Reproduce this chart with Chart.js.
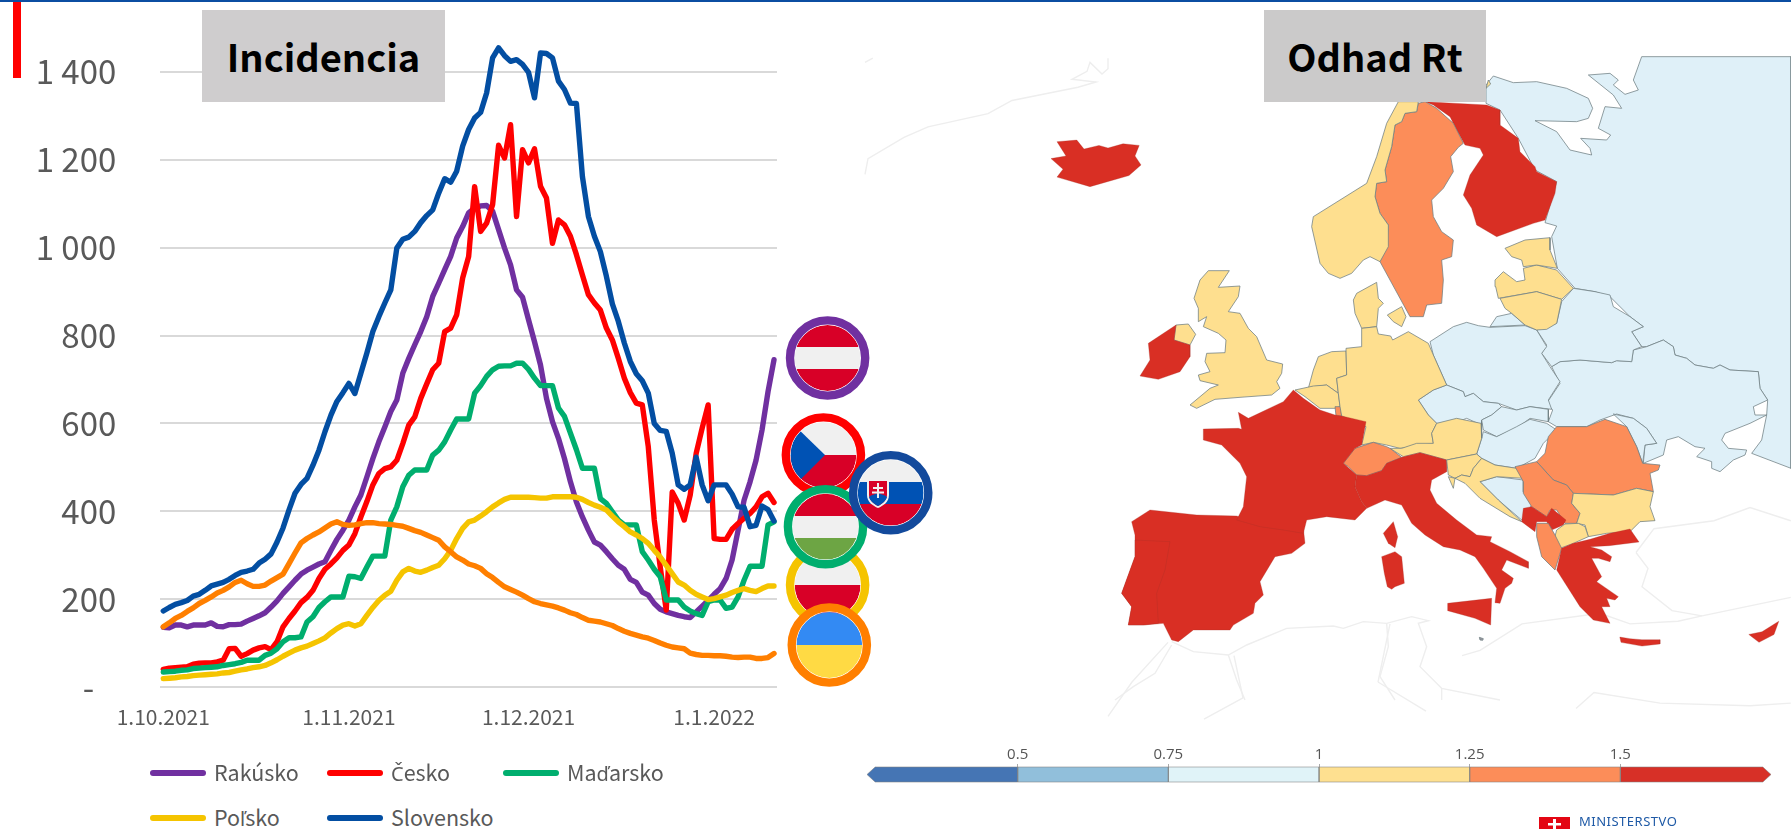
<!DOCTYPE html>
<html lang="sk"><head><meta charset="utf-8"><title>Incidencia a odhad Rt</title>
<script src="https://cdn.jsdelivr.net/npm/chart.js@4"></script>
<style>
html,body{margin:0;padding:0;background:#fff;width:1791px;height:829px;overflow:hidden;font-family:"Noto Sans CJK SC","Noto Sans",sans-serif}
canvas,svg,.abs{position:absolute}
#topline{left:0;top:0;width:1791px;height:2px;background:#0b4ea2}
#redbar{left:13px;top:2px;width:8px;height:76px;background:#ff0000}
.box{display:flex;align-items:center;justify-content:center;top:10px;height:92px;font-weight:700;color:#000;font-size:38px;line-height:1}
#t1{left:202px;width:243px;background:#cfcdce}
#t2{left:1264px;width:222px;background:#cbcaca}
.lg{color:#595959;font-size:21.5px;line-height:1;white-space:nowrap}
.lg span{font-family:"Noto Sans",sans-serif;font-size:.93em}
.lgl{height:6px;border-radius:3px;width:56px}
#logo{left:1539px;top:817px;width:31px;height:12px;background:#e30613;overflow:hidden}
#logotext{left:1579px;top:814px;font-size:13px;line-height:1.2;color:#1f5aa6;letter-spacing:.5px;font-family:"Noto Sans",sans-serif}
</style></head><body>
<div class="abs" id="topline"></div>
<canvas id="map" width="941" height="829" style="left:850px;top:0"></canvas>
<canvas id="inc" width="777" height="760" style="left:0;top:0"></canvas>
<canvas id="bar" width="941" height="50" style="left:850px;top:735px"></canvas>
<div class="abs" id="redbar"></div>
<div class="abs box" id="t1">Incidencia</div>
<div class="abs box" id="t2">Odhad Rt</div>
<div id="legend"></div>
<svg width="1791" height="829" style="left:0;top:0">
<defs>
<clipPath id="cA"><circle cx="827.6" cy="358" r="33"/></clipPath>
<clipPath id="cC"><circle cx="823.4" cy="455" r="33"/></clipPath>
<clipPath id="cP"><circle cx="827.6" cy="585" r="33"/></clipPath>
<clipPath id="cH"><circle cx="825.5" cy="526.7" r="33"/></clipPath>
<clipPath id="cU"><circle cx="829.3" cy="645" r="33"/></clipPath>
<clipPath id="cS"><circle cx="890.7" cy="492.7" r="33"/></clipPath>
</defs>
<g clip-path="url(#cA)"><rect x="790" y="320" width="80" height="80" fill="#f0f0f0"/><rect x="790" y="320" width="80" height="27" fill="#d80027"/><rect x="790" y="369" width="80" height="30" fill="#d80027"/></g>
<circle cx="827.6" cy="358" r="33.6" fill="none" stroke="#fff" stroke-width="1.4"/><circle cx="827.6" cy="358" r="37.6" fill="none" stroke="#7030a0" stroke-width="8.4"/>
<g clip-path="url(#cC)"><rect x="785" y="420" width="80" height="35" fill="#f0f0f0"/><rect x="785" y="455" width="80" height="35" fill="#d80027"/><path d="M790 421L825 455L790 490Z" fill="#0052b4"/></g>
<circle cx="823.4" cy="455" r="33.6" fill="none" stroke="#fff" stroke-width="1.4"/><circle cx="823.4" cy="455" r="37.6" fill="none" stroke="#ff0000" stroke-width="8.4"/>
<g clip-path="url(#cP)"><rect x="790" y="550" width="80" height="35" fill="#f0f0f0"/><rect x="790" y="585" width="80" height="35" fill="#d80027"/></g>
<circle cx="827.6" cy="585" r="33.6" fill="none" stroke="#fff" stroke-width="1.4"/><circle cx="827.6" cy="585" r="37.6" fill="none" stroke="#f5c400" stroke-width="8.4"/>
<g clip-path="url(#cH)"><rect x="790" y="490" width="80" height="80" fill="#f0f0f0"/><rect x="790" y="490" width="80" height="26" fill="#d80027"/><rect x="790" y="538" width="80" height="30" fill="#6da544"/></g>
<circle cx="825.5" cy="526.7" r="33.6" fill="none" stroke="#fff" stroke-width="1.4"/><circle cx="825.5" cy="526.7" r="37.6" fill="none" stroke="#00ae6e" stroke-width="8.4"/>
<g clip-path="url(#cU)"><rect x="790" y="610" width="80" height="35" fill="#338af3"/><rect x="790" y="645" width="80" height="35" fill="#ffda44"/></g>
<circle cx="829.3" cy="645" r="33.6" fill="none" stroke="#fff" stroke-width="1.4"/><circle cx="829.3" cy="645" r="37.6" fill="none" stroke="#ff7f00" stroke-width="8.4"/>
<g clip-path="url(#cS)"><rect x="855" y="459" width="80" height="23" fill="#f0f0f0"/><rect x="855" y="482" width="80" height="22" fill="#0052b4"/><rect x="855" y="504" width="80" height="23" fill="#d80027"/>
<path d="M867 479h22v16c0 7-6 11-11 13c-5-2-11-6-11-13z" fill="#f0f0f0"/><path d="M869 481h18v14c0 5-5 9-9 11c-4-2-9-6-9-11z" fill="#d80027"/><path d="M869 497c3-3 6-2 9-4c3 2 6 1 9 4c-1 4-5 7-9 9c-4-2-8-5-9-9z" fill="#0052b4"/><path d="M877 483h2v15h-2zM873 487h10v2h-10zM872 491.500h12v2h-12z" fill="#f0f0f0"/></g>
<circle cx="890.7" cy="492.7" r="33.6" fill="none" stroke="#fff" stroke-width="1.4"/><circle cx="890.7" cy="492.7" r="37.6" fill="none" stroke="#134a9c" stroke-width="8.4"/>
</svg>
<div class="abs" id="logo"><svg width="31" height="12" style="left:0;top:0"><path d="M14 2h3v10h-3zM9 6h13v2.500H9z" fill="#fff"/></svg></div>
<div class="abs" id="logotext">MINISTERSTVO</div>
<script>
Chart.defaults.font.family='"Noto Sans CJK SC","Noto Sans",sans-serif';
/* ---------- incidence data ---------- */
const monthStarts=[['10','2021',31],['11','2021',30],['12','2021',31],['1','2022',11]];
const categories=[];
monthStarts.forEach(([m,y,n])=>{for(let d=1;d<=n;d++)categories.push(d+'.'+m+'.'+y)});
const tickLabels=['1.10.2021','1.11.2021','1.12.2021','1.1.2022'];
const yTicks=[0,200,400,600,800,1000,1200,1400];
const rakusko=[136,135,141,141,137,141,141,141,146,138,137,142,142,143,150,156,162,169,182,196,213,228,243,257,266,273,280,285,311,336,357,380,410,437,478,520,558,592,627,653,714,748,779,809,843,889,919,950,980,1022,1048,1079,1090,1095,1096,1083,1041,999,961,904,887,836,786,733,657,604,566,520,467,421,387,357,330,323,308,292,277,268,245,238,216,209,190,177,171,167,163,160,158,171,184,197,211,224,247,289,357,425,467,516,585,672,745];
const cesko=[40,43,44,45,46,52,54,55,55,57,61,87,88,70,76,84,89,92,85,103,137,156,173,192,204,220,247,268,280,294,311,323,349,387,422,460,486,497,501,516,554,596,615,657,690,722,737,809,817,847,931,980,1139,1037,1056,1098,1233,1204,1280,1071,1223,1193,1225,1140,1113,1010,1063,1052,1026,984,938,893,874,858,817,790,748,703,670,646,642,547,380,273,175,444,418,380,437,532,589,642,338,336,336,359,372,384,395,410,433,441,420];
const madarsko=[34,35,36,38,39,42,43,44,45,46,49,51,53,56,61,61,61,72,77,87,103,112,112,114,148,160,181,194,205,205,205,252,251,247,273,298,298,298,380,410,456,482,494,494,494,528,539,558,585,610,610,610,669,686,707,722,730,731,731,737,737,723,703,686,686,686,635,616,578,540,498,498,498,429,418,399,380,369,369,369,308,289,268,251,198,198,198,182,173,167,163,194,198,198,179,182,205,243,275,275,275,369,376];
const polsko=[19,20,21,23,24,26,27,28,29,30,32,33,36,39,41,44,46,49,55,62,70,77,84,89,93,99,105,112,123,133,141,144,139,144,163,181,197,209,218,243,262,270,264,261,266,272,277,292,311,338,361,376,380,389,399,410,419,427,432,432,432,432,431,430,430,433,433,433,433,432,427,420,414,409,403,389,376,365,353,346,338,327,311,296,277,258,239,232,220,211,205,199,201,205,209,215,220,224,220,217,224,230,230];
const slovensko=[173,181,188,192,197,207,211,220,230,234,238,245,254,261,264,268,282,291,303,330,362,403,441,461,475,505,539,581,619,650,670,691,668,714,760,809,843,874,904,999,1019,1024,1037,1057,1073,1086,1124,1157,1149,1174,1231,1269,1295,1308,1352,1432,1455,1437,1424,1428,1417,1399,1341,1443,1442,1432,1379,1360,1329,1328,1162,1071,1026,991,935,872,832,783,741,713,697,669,600,584,582,532,460,450,460,523,460,424,460,460,460,439,410,409,365,368,412,404,378];
const ukrajina=[137,146,156,163,172,180,190,197,205,214,220,228,238,243,235,229,229,232,241,249,257,281,305,328,338,346,353,362,371,376,370,368,369,372,374,374,372,371,370,368,366,361,356,352,346,340,334,319,308,296,289,280,276,270,258,249,238,228,222,216,209,201,194,190,187,184,180,175,169,165,158,152,150,148,144,140,133,127,122,118,114,111,106,100,95,91,89,87,77,74,72,72,71,71,70,68,67,68,68,65,65,67,76];
const seriesNames=['Rakúsko','Česko','Maďarsko','Poľsko','Slovensko','Ukrajina'];
const seriesValues=[rakusko,cesko,madarsko,polsko,slovensko,ukrajina];
const seriesColors=['#7030a0','#ff0000','#00ae6e','#f5c400','#034ea2','#ff7f00'];

new Chart(document.getElementById('inc'),{type:'line',
 data:{labels:categories,datasets:seriesNames.map((n,i)=>({label:n,data:seriesValues[i],borderColor:seriesColors[i],backgroundColor:seriesColors[i],borderWidth:5.4,pointRadius:0,tension:0,borderCapStyle:'round',borderJoinStyle:'round',fill:false,order:seriesNames.length-i,clip:false}))},
 options:{responsive:false,animation:false,events:[],layout:{padding:{top:28,left:0,right:0,bottom:0}},
  plugins:{legend:{display:false},tooltip:{enabled:false}},
  scales:{
   x:{offset:true,grid:{display:false},border:{display:false},afterFit:s=>{s.height=73;s.paddingLeft=0;s.paddingRight=0},
      ticks:{autoSkip:false,maxRotation:0,minRotation:0,padding:9,color:'#595959',font:{size:21},
        callback(v){const l=this.getLabelForValue(v);return tickLabels.includes(l)?l:null}}},
   y:{min:0,max:1500,afterFit:s=>{s.width=160.3;s.paddingTop=0;s.paddingBottom=0},afterBuildTicks:s=>{s.ticks=yTicks.map(v=>({value:v}))},
      grid:{color:'#d9d9d9',lineWidth:2,drawTicks:false},border:{display:false},
      ticks:{padding:44,color:'#595959',font:{size:33},
        callback:v=>v===0?'-   ':(v>=1000?Math.floor(v/1000)+' '+String(v%1000).padStart(3,'0'):String(v))}}
  }}});

/* ---------- legend (five visible entries) ---------- */
const legendCols=[150,327,503], legendRows=[772.7,818];
const legendEl=document.getElementById('legend');
seriesNames.slice(0,5).forEach((n,i)=>{
 const x=legendCols[i%3], y=legendRows[Math.floor(i/3)];
 const l=document.createElement('div');l.className='abs lgl';l.style.cssText=`left:${x}px;top:${y-3}px;background:${seriesColors[i]}`;
 const t=document.createElement('div');t.className='abs lg';t.style.cssText=`left:${x+64}px;top:${y-12}px`;
 t.innerHTML=n.replace(/[Čďľ]/g,c=>`<span>${c}</span>`);
 legendEl.append(l,t);
});

/* ---------- map outlines ---------- */
const RED='#d92f24',ORG='#fc8d59',YEL='#fedf8f',BLU='#dff0f8';
const crops={a:[1100,60,1/3,1/3],b:[1100,380,1/3,1/3],c:[1400,60,1/3,1/3],d:[850,0,.6,.5287]};
const faintLines=[
 ['d',[25,330,30,300,90,260,130,240,230,215,270,190,380,165,410,155,370,150,395,135,400,118,420,140,430,130,430,110]],
 ['d',[25,118,38,110]],
 ['b',[215,785,280,815,385,825,440,795,560,745,700,738,730,745,790,725,860,730,935,710,985,722,955,730,980,800,960,860,1025,925,1200,960]],
 ['b',[385,825,410,900,435,960]],['b',[215,795,165,880,100,920,45,960]],['b',[860,730,865,800,840,890,885,960]],['b',[1025,925,1025,960]],
 ['d',[1020,1240,1050,1230,1120,1180,1250,1160,1300,1180,1380,1175,1420,1165,1568,1130]],
 ['d',[1310,1045,1340,1000,1440,985,1500,960,1568,985]],
 ['d',[1310,1045,1330,1075,1320,1110,1370,1155,1420,1165]],
 ['d',[880,1290,900,1180]],['d',[880,1290,960,1345]],['d',[640,1240,655,1320,590,1360]],['d',[1210,1340,1240,1310,1350,1330,1500,1335,1568,1330]],['d',[430,1355,470,1290,530,1215]]
];
const russia=[280,48,340,68,410,65,500,85,565,115,578,145,565,175,530,185,405,182,470,215,510,270,575,285,570,265,542,235,620,240,632,225,595,205,615,140,665,145,640,105,565,45,630,40,655,60,640,75,675,103,715,90,700,60,725,-10,1173,-10,1173,1225,1055,1180,1085,1140,1100,1065,1103,1020,1080,985,1075,935,990,930,960,915,940,925,885,915,860,895,825,885,820,860,790,840,740,860,725,860,695,815,730,800,690,770,630,710,585,695,525,685,472,625,455,530,470,498,435,488,470,365,405,330,355,235,300,150,258,130,258,75];
const ukraineArea=[455,920,480,905,540,900,635,908,650,902,695,905,700,870,740,860,790,840,820,860,825,885,860,895,885,915,940,925,960,915,990,930,1075,935,1080,985,1103,1020,1060,1040,1065,1065,1100,1065,1050,1090,975,1120,965,1140,985,1165,1040,1170,1035,1185,1000,1200,960,1235,935,1225,935,1205,890,1190,915,1165,885,1160,835,1130,800,1140,790,1185,730,1210,735,1155,770,1150,740,1105,700,1075,650,1062,600,1080,560,1100,470,1100,445,1085,458,1050,440,1030,480,970];
const mapAreas=[
 [BLU,'c',russia],[BLU,'c',ukraineArea],
 [BLU,'c',[640,1062,700,1075,740,1105,770,1150,735,1155,728,1210,710,1160,680,1100]],
 [BLU,'c',[410,810,470,790,485,725,520,685,585,695,630,705,640,740,690,770,730,800,695,815,725,860,700,870,695,905,650,902,635,908,540,900,480,905,455,920,425,880,440,855]],
 [BLU,'a',[990,845,1060,800,1100,787,1135,797,1170,802,1275,797,1310,810,1340,860,1325,880,1350,920,1380,965,1345,1020,1355,1048,1290,1040,1250,1050,1195,1030,1150,1025,1120,1000,1095,1010,1090,995,1040,975,1000,885]],
 [BLU,'a',[1170,800,1190,770,1235,760,1275,795]],
 [BLU,'a',[955,1020,1000,990,1040,975,1090,995,1095,1010,1120,1000,1150,1025,1195,1030,1205,1040,1175,1065,1145,1080,1145,1095,1100,1075,1060,1090,1010,1090,985,1065]],
 [BLU,'a',[1205,1040,1250,1050,1290,1040,1345,1048,1345,1085,1290,1075,1250,1105,1190,1130,1150,1110,1145,1080,1175,1065]],
 [BLU,'b',[1150,155,1190,170,1250,140,1290,118,1340,130,1370,150,1330,190,1305,235,1250,265,1185,255,1145,235,1130,222,1145,175]],
 [BLU,'b',[1140,305,1190,290,1270,300,1270,335,1295,375,1265,420,1195,360]],
 [RED,'c',[75,125,260,135,300,150,300,195,355,235,360,275,405,320,410,335,470,365,465,400,435,480,400,490,345,510,290,530,230,495,215,445,190,405,210,345,250,285,240,265,195,255,170,210,150,170,100,135]],
 [ORG,'a',[955,130,950,155,915,160,905,185,885,195,875,260,855,330,860,365,830,370,825,410,840,460,865,495,860,560,840,605,870,660,930,770,970,770,980,735,1025,730,1030,660,1025,600,1055,590,1060,540,1025,515,1000,470,995,420,1030,385,1060,335,1052,290,1075,262,1090,250,1060,190,1010,145,975,125]],
 [YEL,'a',[895,125,860,190,830,290,800,370,720,420,640,470,635,500,660,610,685,640,720,655,755,640,790,600,810,590,840,605,865,560,865,495,840,460,825,410,830,370,860,365,855,330,875,260,885,195,905,185,915,160,950,155,955,125]],
 [YEL,'a',[1158,85,1165,60,1172,72]],
 [YEL,'a',[760,720,770,700,830,667,835,715,850,730,835,745,830,800,785,805,765,760]],
 [YEL,'a',[862,765,905,740,918,770,905,800,880,785]],
 [YEL,'a',[325,632,388,632,355,682,420,678,415,710,385,755,420,760,445,805,470,830,500,900,548,912,545,940,530,965,540,985,515,1005,420,1012,345,1018,290,1045,270,1035,330,985,355,975,300,962,295,945,330,935,315,905,320,880,375,878,378,840,355,820,310,800,320,770,295,785,295,745,282,715,300,660]],
 [YEL,'a',[228,795,265,792,287,823,270,855,222,840]],
 [RED,'a',[228,795,222,840,270,855,270,890,240,935,175,958,120,948,150,900,145,850]],
 [RED,'d',[345,268,378,265,390,282,415,275,430,280,455,272,482,275,475,295,485,312,465,332,400,353,345,335,355,320,335,300,360,295]],
 [YEL,'a',[655,890,695,875,738,873,740,945,710,955,715,1000,680,975,640,980,625,985,640,930]],
 [YEL,'a',[585,990,640,978,680,975,715,1000,720,1040,705,1045,660,1045,615,1010]],
 [ORG,'a',[705,1040,722,1040,725,1068,708,1068]],
 [YEL,'a',[785,805,830,800,835,822,872,828,878,840,925,815,985,850,1000,885,1040,975,1000,990,955,1020,985,1065,1010,1090,995,1120,1000,1150,900,1165,860,1155,820,1147,785,1155,798,1100,725,1068,720,1040,715,1000,710,955,740,945,738,865,785,860]],
 [YEL,'c',[285,660,310,635,350,665,375,660,370,625,410,615,470,630,520,685,485,718,410,695,295,715,287,680]],
 [YEL,'c',[315,565,375,540,450,533,450,570,472,625,410,615,370,620,365,600,335,590]],
 [YEL,'c',[300,715,410,695,485,718,470,790,440,808,410,810,375,795,335,760,315,745]],
 [YEL,'b',[1000,190,995,160,1010,130,1070,115,1143,130,1145,175,1130,222,1040,240,960,218,910,230,870,205,905,205,950,190]],
 [ORG,'b',[730,250,765,205,820,187,860,200,870,205,905,232,860,250,845,272,800,287,770,285,745,260]],
 [RED,'b',[95,425,150,390,290,405,410,408,480,430,550,440,610,445,615,490,575,520,525,530,480,605,490,645,465,670,460,700,400,735,390,750,280,750,235,785,215,780,190,730,130,735,85,735,95,680,65,640,105,530,105,465]],
 [RED,'b',[105,480,210,485,195,570,170,640,175,730,130,735,85,735,95,680,65,640,105,530]],
 [RED,'b',[310,147,415,145,425,148,415,97,445,115,550,65,580,30,610,55,660,90,705,105,725,108,798,125,785,195,765,205,730,250,770,285,765,320,785,365,800,385,765,420,680,410,620,420,610,460,550,450,480,440,410,420,430,380,440,290,420,250,365,195,310,180]],
 [RED,'b',[770,285,800,287,845,272,860,250,905,232,960,218,1040,240,1040,275,995,300,990,330,1010,370,1070,420,1130,465,1175,470,1170,485,1230,515,1285,545,1285,565,1220,540,1205,570,1240,595,1235,610,1215,625,1200,670,1185,668,1190,625,1150,565,1125,530,1080,510,1030,500,975,465,935,430,905,375,855,360,800,385,785,365,765,320]],
 [RED,'b',[845,530,885,515,905,530,913,610,885,620,875,628,862,620,853,580]],
 [RED,'b',[850,460,880,425,893,470,885,503,865,490]],
 [RED,'b',[1043,670,1175,655,1172,735,1125,715,1043,692]],
 [YEL,'b',[1040,240,1130,222,1145,235,1120,265,1110,290,1085,285,1065,295,1045,285]],
 [YEL,'b',[1145,235,1185,255,1250,265,1270,295,1190,290,1140,305,1195,360,1265,425,1230,410,1140,355,1095,310,1065,295,1085,285,1110,290,1120,265]],
 [YEL,'b',[1045,290,1060,325,1065,295]],
 [ORG,'c',[410,1205,435,1180,445,1130,470,1100,560,1100,615,1078,680,1100,710,1160,728,1210,780,1215,775,1230,750,1240,760,1295,710,1285,640,1305,520,1300,500,1275,460,1260]],
 [ORG,'c',[345,1220,410,1205,460,1260,500,1275,520,1300,515,1330,540,1360,530,1390,495,1390,470,1350,450,1350,440,1370,395,1340,370,1300,370,1265]],
 [YEL,'c',[520,1300,640,1305,710,1285,760,1295,750,1340,765,1382,720,1385,690,1415,620,1420,565,1430,555,1395,530,1390,540,1360,515,1330]],
 [RED,'c',[370,1345,395,1340,440,1370,455,1345,498,1380,490,1395,455,1410,440,1385,410,1385,405,1415,365,1385]],
 [YEL,'c',[470,1410,495,1392,535,1390,555,1400,565,1430,520,1450,480,1465,462,1440]],
 [ORG,'b',[1310,430,1345,430,1365,465,1385,505,1365,570,1325,530,1310,470]],
 [RED,'b',[1385,505,1420,490,1470,478,1530,460,1590,447,1617,486,1527,497,1470,500,1505,510,1535,530,1530,545,1495,535,1475,535,1505,590,1490,605,1555,650,1545,660,1520,655,1530,680,1505,680,1530,730,1480,720,1440,680,1370,570]],
 [RED,'d',[1283,1205,1300,1208,1320,1210,1350,1210,1350,1218,1320,1222,1285,1215]],
 [RED,'d',[1498,1200,1520,1195,1548,1175,1540,1200,1515,1215]],
 ['#9a9aa0','b',[1138,772,1150,776,1148,781,1140,780]]
];
const toPts=(crop,f)=>{const[ox,oy,sx,sy]=crops[crop];const p=[];for(let i=0;i<f.length;i+=2)p.push({x:ox+f[i]*sx,y:oy+f[i+1]*sy});return p};
const edge=c=>c===RED?'rgba(170,50,40,.3)':'rgba(110,125,130,.75)';
const mapDatasets=[];
faintLines.forEach(([c,f])=>mapDatasets.push({data:toPts(c,f),showLine:true,borderColor:'#eeeeee',borderWidth:1.4,pointRadius:0,fill:false,tension:0,clip:false}));
mapAreas.forEach(([col,c,f])=>{const p=toPts(c,f);p.push(p[0]);mapDatasets.push({data:p,showLine:true,backgroundColor:col,borderColor:edge(col),borderWidth:1,pointRadius:0,fill:'shape',tension:0,clip:false})});
mapDatasets.forEach((d,i)=>{d.order=mapDatasets.length-i});
new Chart(document.getElementById('map'),{type:'scatter',data:{datasets:mapDatasets},
 options:{responsive:false,animation:false,events:[],layout:{padding:0},plugins:{legend:{display:false},tooltip:{enabled:false}},
  scales:{x:{type:'linear',display:false,min:850,max:1791},y:{type:'linear',display:false,reverse:true,min:0,max:829}}}});

/* ---------- Rt colour scale ---------- */
const rtBreaks=[0.25,0.5,0.75,1,1.25,1.5,1.75];
const rtColors=['#4575b4','#91bfdb','#e0f3f8','#fee090','#fc8d59','#d73027'];
const rtTicks=[0.5,0.75,1,1.25,1.5];
const tip=0.0135;
const rtData=rtColors.map((c,i)=>{const a=rtBreaks[i],b=rtBreaks[i+1];
 let p=[{x:a,y:0},{x:a,y:1},{x:b,y:1},{x:b,y:0}];
 if(i===0)p=[{x:a,y:.5},{x:a+tip,y:1},{x:b,y:1},{x:b,y:0},{x:a+tip,y:0}];
 if(i===rtColors.length-1)p=[{x:a,y:0},{x:a,y:1},{x:b-tip,y:1},{x:b,y:.5},{x:b-tip,y:0}];
 p.push(p[0]);
 return {data:p,showLine:true,backgroundColor:c,borderColor:'rgba(130,130,130,.55)',borderWidth:1,pointRadius:0,fill:'shape',tension:0,clip:false}});
new Chart(document.getElementById('bar'),{type:'scatter',data:{datasets:rtData},
 options:{responsive:false,animation:false,events:[],layout:{padding:{left:17,right:20,top:0,bottom:3}},plugins:{legend:{display:false},tooltip:{enabled:false}},
  scales:{x:{type:'linear',position:'top',min:.25,max:1.75,afterFit:s=>{s.height=32},afterBuildTicks:s=>{s.ticks=rtTicks.map(v=>({value:v}))},
    grid:{drawOnChartArea:false,tickLength:3,color:'#aaa'},border:{display:false},
    ticks:{padding:0,color:'#555',font:{size:15,family:'"Open Sans"'},callback:v=>String(v)}},
   y:{display:false,min:0,max:1}}}});
</script>
</body></html>
